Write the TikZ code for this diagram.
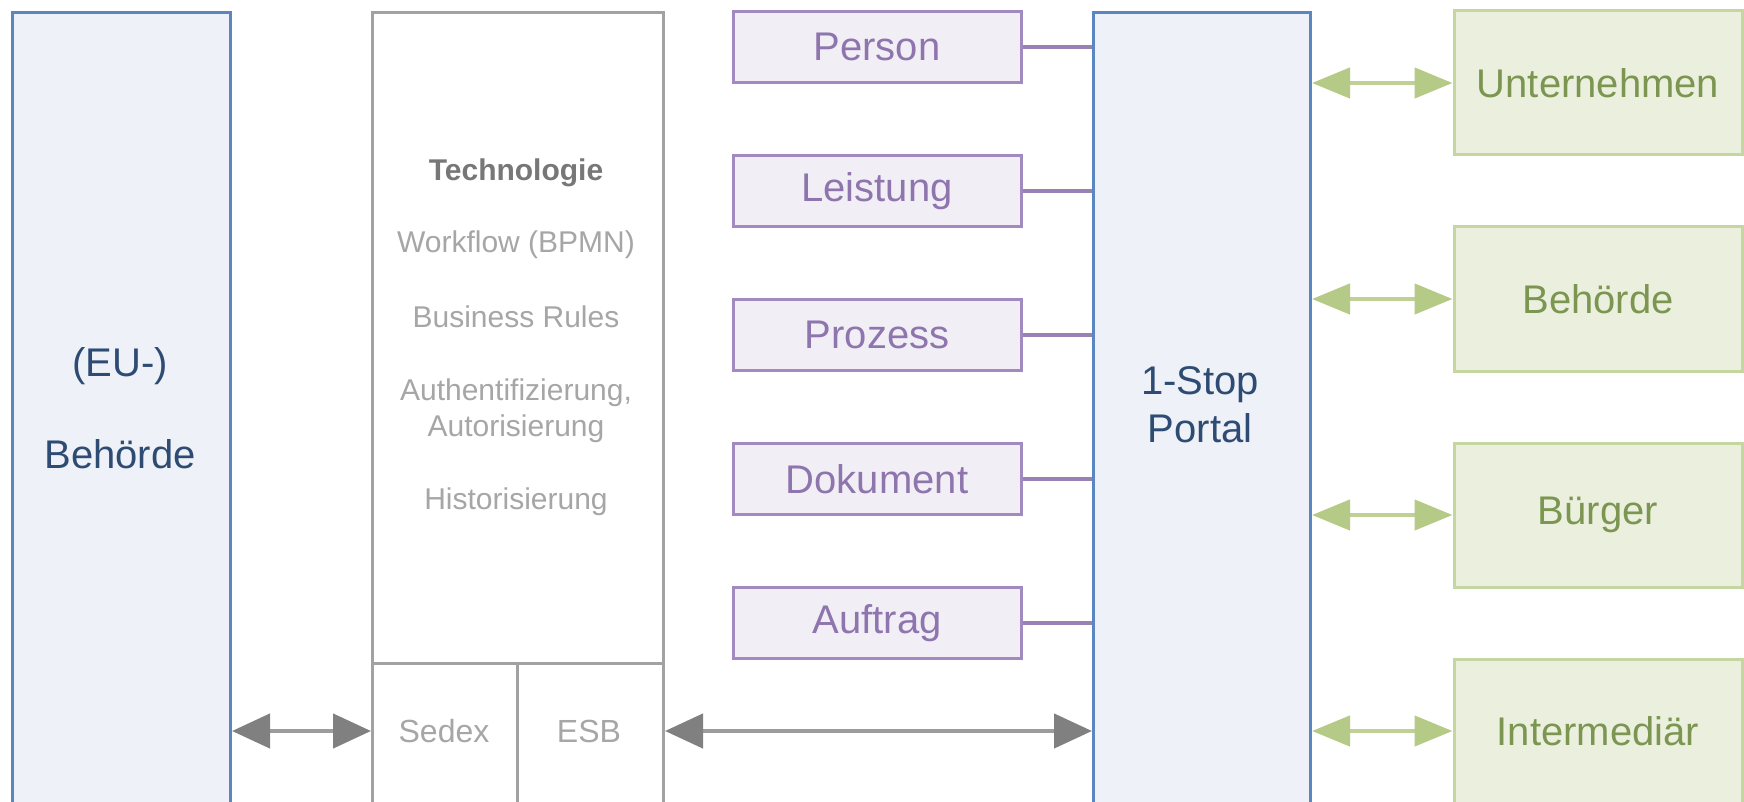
\documentclass[tikz,border=0pt]{standalone}
\usepackage{fontspec}
\setmainfont{Liberation Sans}
\usetikzlibrary{arrows.meta}
\definecolor{blueb}{HTML}{5B86BF}
\definecolor{bluef}{HTML}{EEF1F7}
\definecolor{bluet}{HTML}{2E4B74}
\definecolor{grayb}{HTML}{A2A2A2}
\definecolor{grayt}{HTML}{A6A6A6}
\definecolor{graybold}{HTML}{777777}
\definecolor{grayline}{HTML}{9C9C9C}
\definecolor{graytip}{HTML}{808080}
\definecolor{purpb}{HTML}{A08AC0}
\definecolor{purpf}{HTML}{F1EFF5}
\definecolor{purpt}{HTML}{8E75AE}
\definecolor{purpl}{HTML}{9A80B5}
\definecolor{greenb}{HTML}{C5D6A0}
\definecolor{greenf}{HTML}{EBF0DE}
\definecolor{greent}{HTML}{7C9652}
\definecolor{greenl}{HTML}{BFD195}
\definecolor{greentip}{HTML}{B6CA88}
\begin{document}
\begin{tikzpicture}[x=1pt,y=-1pt,
  box/.style={rectangle, draw, line width=3pt, inner sep=0pt, anchor=north west},
  bluebox/.style={box, draw=blueb, fill=bluef},
  graybox/.style={box, draw=grayb, fill=white},
  bluetxt/.style={inner sep=0pt, text=bluet, font=\fontsize{40}{48}\selectfont},
  techtxt/.style={inner sep=0pt, text=grayt, font=\fontsize{30}{36}\selectfont, align=center},
  techbold/.style={inner sep=0pt, text=graybold, font=\fontsize{30}{36}\selectfont\bfseries},
  celltxt/.style={inner sep=0pt, text=grayt, font=\fontsize{32}{38}\selectfont},
  purplebox/.style={rectangle, draw=purpb, fill=purpf, line width=3pt, inner sep=0pt,
    minimum width=288pt, minimum height=71pt, text=purpt, font=\fontsize{40}{48}\selectfont},
  greenbox/.style={rectangle, draw=greenb, fill=greenf, line width=3pt, inner sep=0pt,
    minimum width=288pt, minimum height=144pt, text=greent, font=\fontsize{40}{48}\selectfont},
  purpleline/.style={draw=purpl, line width=3.5pt},
  grayarrow/.style={draw=grayline, line width=4.5pt,
    {Triangle[length=38pt,width=34pt,color=graytip]}-{Triangle[length=38pt,width=34pt,color=graytip]}},
  greenarrow/.style={draw=greenl, line width=4.5pt,
    {Triangle[length=38pt,width=30pt,color=greentip]}-{Triangle[length=38pt,width=30pt,color=greentip]}}
]
\useasboundingbox (0,0) rectangle (1744,802);
\clip (0,0) rectangle (1744,802);

% left authority box
\node[bluebox, minimum width=218pt, minimum height=800pt] (eu) at (11,11) {};
\node[bluetxt] (eut1) at (120,366) {(EU-)};
\node[bluetxt] (eut2) at (120,454) {Behörde};

% technology box
\node[graybox, minimum width=291pt, minimum height=651pt] (tech) at (371,11) {};
\node[graybox, minimum width=145pt, minimum height=150pt] (sedex) at (371,662) {};
\node[graybox, minimum width=146pt, minimum height=150pt] (esb) at (516,662) {};
\node[techbold] (t0) at (516,173) {Technologie};
\node[techtxt] (t1) at (516,245) {Workflow (BPMN)};
\node[techtxt] (t2) at (516,317) {Business Rules};
\node[techtxt] (t3) at (516,411) {Authentifizierung,\\Autorisierung};
\node[techtxt] (t4) at (516,502) {Historisierung};
\node[celltxt] (sedext) at (444,731) {Sedex};
\node[celltxt] (esbt) at (589,731) {ESB};

% portal
\node[bluebox, minimum width=217pt, minimum height=800pt] (portal) at (1092,11) {};
\node[bluetxt] (pt1) at (1200,385) {1-Stop};
\node[bluetxt] (pt2) at (1200,428) {Portal};

% gray arrows
\draw[grayarrow] (eu.east |- sedext) -- (sedex.west |- sedext);
\draw[grayarrow] (esb.east |- esbt) -- (portal.west |- esbt);

% purple entities
\foreach \n/\t/\y in {per/Person/47, lei/Leistung/191, pro/Prozess/335, dok/Dokument/479, auf/Auftrag/623} {
  \node[purplebox] (\n) at (877,\y) {\t};
  \draw[purpleline] (\n.east) -- (\n.east -| portal.west);
}

% green actors
\foreach \n/\t/\y in {unt/Unternehmen/83, beh/Behörde/299, bue/Bürger/515, inm/Intermediär/731} {
  \node[greenbox] (\n) at (1598,\y) {\t};
  \draw[greenarrow] (portal.east |- \n.west) -- (\n.west);
}
\end{tikzpicture}
\end{document}
